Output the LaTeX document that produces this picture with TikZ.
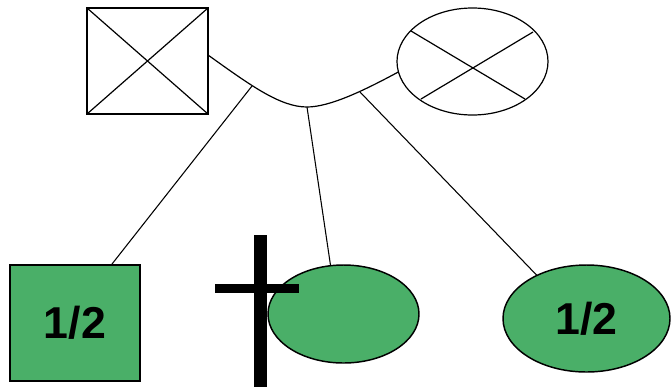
\documentclass[tikz,border=0pt]{standalone}
\usepackage{fontspec}
\setmainfont{Liberation Sans}
\usetikzlibrary{shapes.geometric,calc}
\definecolor{pedgreen}{RGB}{74,175,104}
\begin{document}
\begin{tikzpicture}[x=0.75pt,y=-0.75pt,
  parent/.style={draw=black,line width=0.9pt,inner sep=0pt,outer sep=0pt},
  child/.style={draw=black,fill=pedgreen,line width=1.1pt,inner sep=0pt,outer sep=0pt,
    font=\fontsize{33.5}{40}\selectfont\bfseries},
  link/.style={draw=black,line width=0.8pt},
  bar/.style={fill=black}]
\useasboundingbox (0,0) rectangle (671,387);
% parents
\node[parent,rectangle,minimum width=90.75pt,minimum height=79.5pt] (father) at (147.5,61) {};
\node[parent,ellipse,minimum width=113.25pt,minimum height=80.25pt] (mother) at (472.5,61.5) {};
\draw[line width=0.9pt] (father.north west) -- (father.south east);
\draw[line width=0.9pt] (father.south west) -- (father.north east);
\draw[line width=0.9pt] ([shift={(-61.5,-30.5)}]mother.center) -- ([shift={(52.5,37.5)}]mother.center);
\draw[line width=0.9pt] ([shift={(60.5,-29.5)}]mother.center) -- ([shift={(-51.5,37.5)}]mother.center);
% mating curve
\coordinate (j1) at (252,86);
\coordinate (j2) at (307,107);
\coordinate (j3) at (360,92);
\draw[line width=0.9pt] ([yshift=4.5pt]father.east) .. controls (250,85) and (280,107) .. (j2)
  .. controls (330,107) and (365,90) .. (mother.188.7);
% children
\node[child,rectangle,minimum width=97.5pt,minimum height=87pt] (son) at (75,323) {1/2};
\node[child,ellipse,minimum width=113.25pt,minimum height=73.5pt] (dau) at (343.5,314) {};
\node[child,ellipse,minimum width=125.25pt,minimum height=80.25pt] (dau2) at (586.5,318.5) {1/2};
% descent lines
\draw[link] (j1) -- (son.58.9);
\draw[link] (j2) -- (dau.105.6);
\draw[link] (j3) -- (dau2.139);
% deceased cross
\fill[bar] (254,235) rectangle (267,387);
\fill[bar] (215,284) rectangle (299,293);
\end{tikzpicture}
\end{document}
